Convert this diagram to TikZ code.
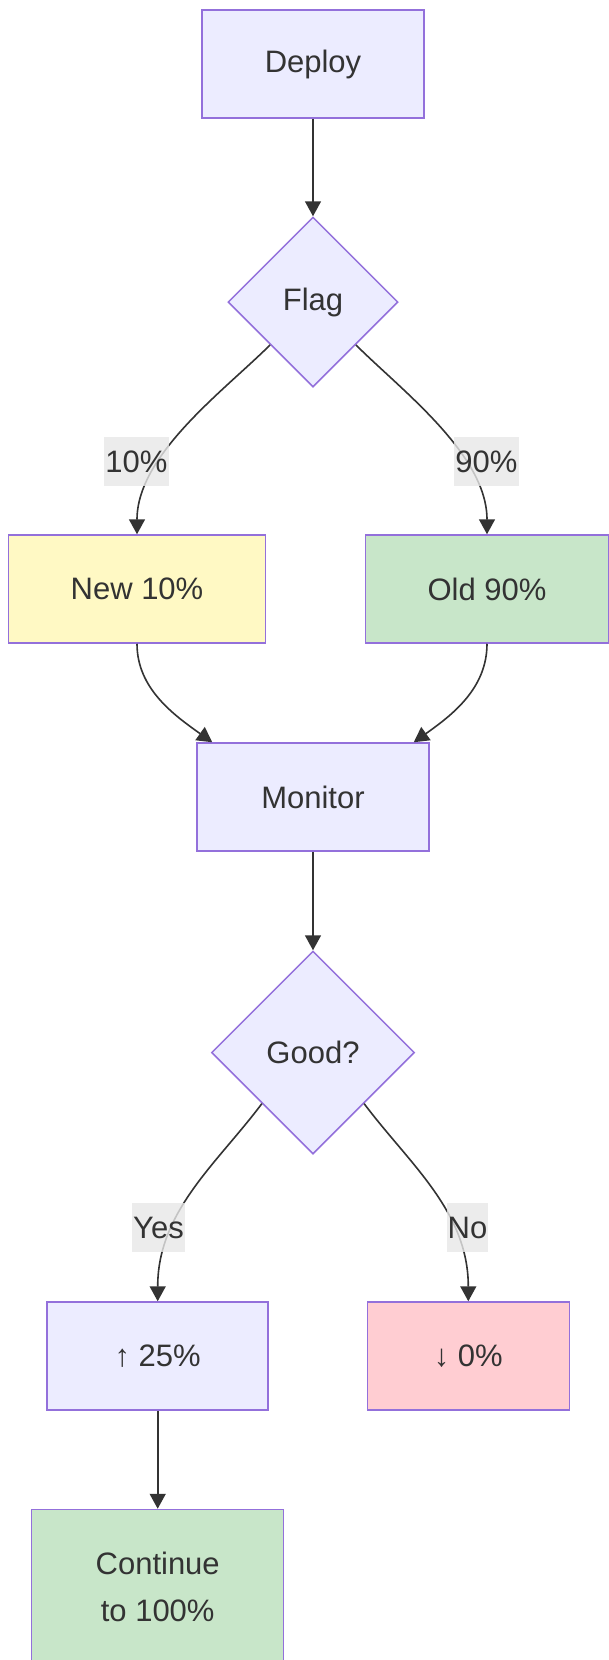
\documentclass[tikz,border=0pt]{standalone}
\usepackage{fontspec}
\setmainfont{Liberation Sans}
\usetikzlibrary{shapes.geometric,arrows.meta}
\definecolor{nodefill}{HTML}{ECECFF}
\definecolor{nodeline}{HTML}{9370DB}
\definecolor{txt}{HTML}{333333}
\definecolor{edgecol}{HTML}{333333}
\definecolor{newfill}{HTML}{FFF9C4}
\definecolor{oldfill}{HTML}{C8E6C9}
\definecolor{badfill}{HTML}{FFCDD2}
\definecolor{lblfill}{HTML}{E8E8E8}
\begin{document}
\begin{tikzpicture}[x=1pt,y=-1pt,
  box/.style={draw=nodeline, fill=nodefill, line width=1.5pt, inner sep=0pt,
    minimum height=108, text=txt, font=\fontsize{31}{37}\selectfont},
  decision/.style={diamond, aspect=1, draw=nodeline, fill=nodefill, line width=1.5pt,
    inner sep=0pt, text=txt, font=\fontsize{31}{37}\selectfont},
  flow/.style={draw=edgecol, line width=1.6pt, -{Triangle[length=15pt,width=16pt]}},
  lbl/.style={fill=lblfill, fill opacity=0.8, text opacity=1, text=txt,
    inner xsep=1pt, inner ysep=0pt, minimum height=49, font=\fontsize{31}{37}\selectfont}]
\useasboundingbox (0,0) rectangle (609,1660);
\fill[white] (0,0) rectangle (609,1660);

\node[box, minimum width=222] (deploy) at (313,64) {Deploy};
\node[decision, minimum width=170, minimum height=170] (flag) at (313,302) {Flag};
\node[box, fill=newfill, minimum width=257] (new) at (137,589) {New 10\%};
\node[box, fill=oldfill, minimum width=243] (old) at (487,589) {Old 90\%};
\node[box, minimum width=232] (monitor) at (313,797) {Monitor};
\node[decision, minimum width=203, minimum height=203] (good) at (313,1052.5) {Good?};
\node[box, minimum width=221] (up) at (157.7,1356) {↑ 25\%};
\node[box, fill=badfill, minimum width=202] (down) at (468.3,1356) {↓ 0\%};
\node[box, fill=oldfill, minimum width=252, minimum height=155, align=center,
  font=\fontsize{31}{47}\selectfont] (cont) at (157.7,1587) {Continue\\to 100\%};

\draw[flow] (deploy.south) -- (flag.north);
\draw[flow] (flag.south west) .. controls +(-45,45) and +(0,-80) .. (new.north);
\draw[flow] (flag.south east) .. controls +(45,45) and +(0,-80) .. (old.north);
\draw[flow] (new.south) .. controls +(0,45) and +(-38,-27) .. ([xshift=16pt]monitor.north west);
\draw[flow] (old.south) .. controls +(0,45) and +(38,-27) .. ([xshift=-16pt]monitor.north east);
\draw[flow] (monitor.south) -- (good.north);
\draw[flow] (good.south west) .. controls +(-45,60) and +(0,-90) .. (up.north);
\draw[flow] (good.south east) .. controls +(45,60) and +(0,-90) .. (down.north);
\draw[flow] (up.south) -- (cont.north);

\node[lbl] (l10) at (136.5,461.5) {10\%};
\node[lbl] (l90) at (486.5,461.5) {90\%};
\node[lbl] (lyes) at (158.5,1227.5) {Yes};
\node[lbl] (lno) at (467.5,1227.5) {No};
\end{tikzpicture}
\end{document}
